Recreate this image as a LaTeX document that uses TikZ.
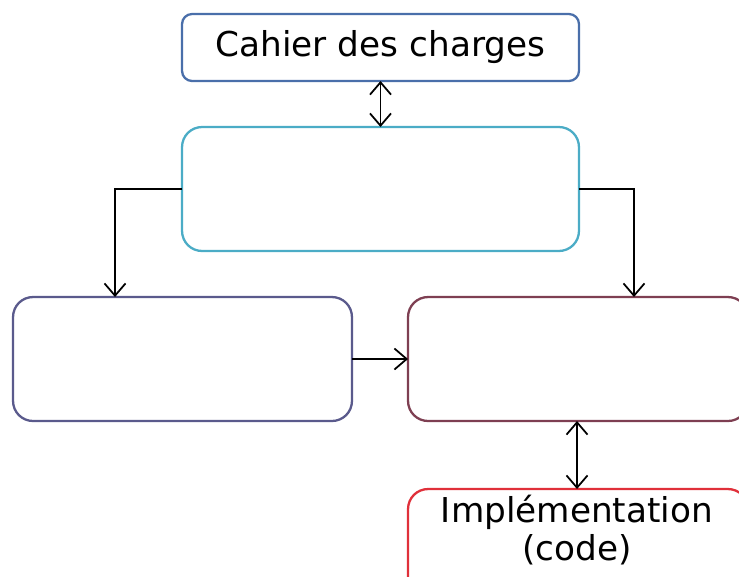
\documentclass[tikz,border=0pt]{standalone}
\usepackage{fontspec}
\setmainfont{DejaVu Sans}
\usepackage{xcolor}
\usepackage{tikz}
\usetikzlibrary{positioning,arrows.meta}

\definecolor{cdcblue}{HTML}{4A6FAA}
\definecolor{midcyan}{HTML}{4BACC6}
\definecolor{leftslate}{HTML}{5A5A8C}
\definecolor{rightmaroon}{HTML}{7E3F52}
\definecolor{implred}{HTML}{E0303A}

\begin{document}
\begin{tikzpicture}[x = 0.02cm, y = -0.02cm,
    box/.style = {draw, rounded corners = 0.4cm, line width = 1.3pt,
      outer sep = 0pt, inner sep = 0pt, fill = white},
    link/.style = {line width = 1pt, >={Straight Barb[length = 7pt, width = 12pt]}}]
  \useasboundingbox (0, 0) rectangle (739, 576);
  \clip (0, 0) rectangle (739, 576);

  \node[box, draw = cdcblue, rounded corners = 0.2cm,
    minimum width = 7.94cm, minimum height = 1.34cm] (cdc) at (380.5, 47.5){
    \fontsize{19.5}{21}\selectfont Cahier des charges
  };

  \node[box, draw = midcyan,
    minimum width = 7.94cm, minimum height = 2.48cm] (mid) at (380.5, 189){};

  \node[box, draw = leftslate,
    minimum width = 6.78cm, minimum height = 2.48cm] (left) at (182.5, 359){};

  \node[box, draw = rightmaroon,
    minimum width = 6.8cm, minimum height = 2.48cm] (right) at (578, 359){};

  \node[box, draw = implred,
    minimum width = 6.8cm, minimum height = 2.48cm] (impl) at (578, 551){};

  \node[align = center, font = \fontsize{19.5}{21.5}\selectfont] (impltext) at (577, 530){
    Implémentation\\(code)
  };

  \draw[link, <->] (cdc) -- (mid);
  \draw[link, ->] (mid.west) -| ([xshift = -1.35cm]left.north);
  \draw[link, ->] (mid.east) -| ([xshift = 1.12cm]right.north);
  \draw[link, ->] (left.east) -- (right.west);
  \draw[link, <->] ([xshift = -0.02cm]right.south) -- ([xshift = -0.02cm]impl.north);
\end{tikzpicture}
\end{document}
